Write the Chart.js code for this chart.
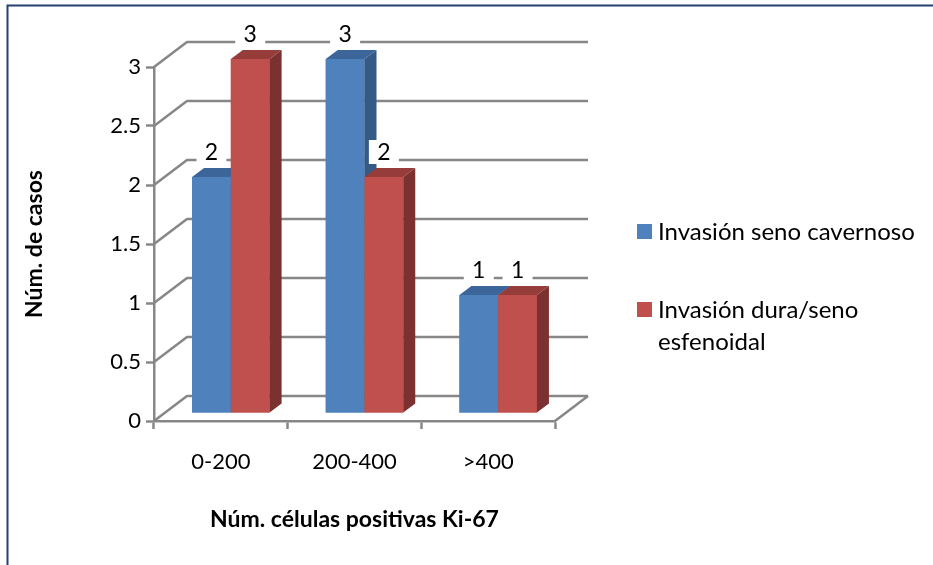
<!DOCTYPE html>
<html>
<head>
<meta charset="utf-8">
<script src="https://cdn.jsdelivr.net/npm/chart.js@4/dist/chart.umd.min.js"></script>
<style>
  html, body { margin: 0; padding: 0; background: #ffffff; }
  #wrap { width: 933px; height: 565px; position: relative; }
</style>
</head>
<body>
<div id="wrap"><canvas id="c" width="933" height="565"></canvas></div>
<script>
// Data
const categories = ['0-200', '200-400', '>400'];
const seriesNames = ['Invasión seno cavernoso', 'Invasión dura/seno esfenoidal'];
const cavernoso = [2, 3, 1];
const duraEsfenoidal = [3, 2, 1];
const yTicks = [0, 0.5, 1, 1.5, 2, 2.5, 3];

// Styling
const FONT = 'Lato, "Open Sans", sans-serif';
const GRID = '#878787';
const palette = [
  { front: '#4F81BD', top: '#3C6699', side: '#365A86' },
  { front: '#C0504D', top: '#963C3A', side: '#7B312F' }
];
const WALL = { dx: 33, dy: -25 };   // depth of the back wall
const BAR_PLANE = { dx: 10, dy: -8 }; // bars sit a little behind the front plane
const BAR_DEPTH = { dx: 12, dy: -9 };

function poly(ctx, pts, fill) {
  ctx.beginPath();
  ctx.moveTo(pts[0][0], pts[0][1]);
  for (let i = 1; i < pts.length; i++) ctx.lineTo(pts[i][0], pts[i][1]);
  ctx.closePath();
  ctx.fillStyle = fill;
  ctx.fill();
}

const box3d = {
  id: 'box3d',
  beforeDraw(chart) {
    const ctx = chart.ctx;
    ctx.save();
    ctx.fillStyle = '#ffffff';
    ctx.fillRect(0, 0, chart.width, chart.height);
    // frame (top and left edges)
    ctx.strokeStyle = '#24406F';
    ctx.lineWidth = 2;
    ctx.beginPath();
    ctx.moveTo(chart.width + 5, 5.5);
    ctx.lineTo(7.5, 5.5);
    ctx.lineTo(7.5, chart.height + 5);
    ctx.stroke();
    ctx.restore();
  },
  beforeDatasetsDraw(chart) {
    const ctx = chart.ctx;
    const { left, right, bottom } = chart.chartArea;
    const y = chart.scales.y;
    ctx.save();
    ctx.strokeStyle = GRID;
    ctx.lineWidth = 2.5;
    ctx.lineJoin = 'round';
    yTicks.forEach(v => {
      const py = y.getPixelForValue(v);
      ctx.beginPath();
      ctx.moveTo(left, py);
      ctx.lineTo(left + WALL.dx, py + WALL.dy);
      ctx.lineTo(right + WALL.dx, py + WALL.dy);
      ctx.stroke();
    });
    // right edge of the floor
    ctx.beginPath();
    ctx.moveTo(right, bottom);
    ctx.lineTo(right + WALL.dx, bottom + WALL.dy);
    ctx.stroke();
    ctx.restore();

    ctx.save();
    ctx.translate(BAR_PLANE.dx, BAR_PLANE.dy);
  },
  afterDatasetsDraw(chart) {
    const ctx = chart.ctx;
    const metas = chart.data.datasets.map((d, i) => chart.getDatasetMeta(i));
    // paint each group left to right so that the right bar covers its neighbour's side
    for (let c = 0; c < categories.length; c++) {
      metas.forEach((meta, d) => {
        const el = meta.data[c];
        const { x, y, base, width } = el.getProps(['x', 'y', 'base', 'width'], true);
        const l = x - width / 2, r = x + width / 2;
        const col = palette[d];
        el.draw(ctx);
        poly(ctx, [[r, y], [r + BAR_DEPTH.dx, y + BAR_DEPTH.dy], [r + BAR_DEPTH.dx, base + BAR_DEPTH.dy], [r, base]], col.side);
        poly(ctx, [[l, y], [r, y], [r + BAR_DEPTH.dx, y + BAR_DEPTH.dy], [l + BAR_DEPTH.dx, y + BAR_DEPTH.dy]], col.top);
      });
    }
    // value labels
    ctx.font = '23px ' + FONT;
    ctx.textAlign = 'center';
    ctx.textBaseline = 'middle';
    metas.forEach((meta, d) => {
      meta.data.forEach((el, c) => {
        const { x, y } = el.getProps(['x', 'y'], true);
        const ly = y - 25;
        ctx.fillStyle = '#ffffff';
        ctx.fillRect(x - 15, ly - 12, 30, 24);
        ctx.fillStyle = '#000000';
        ctx.fillText(String(chart.data.datasets[d].data[c]), x, ly + 1);
      });
    });
    ctx.restore();
  },
  afterDraw(chart) {
    const ctx = chart.ctx;
    ctx.save();
    ctx.font = '24px ' + FONT;
    ctx.textAlign = 'left';
    ctx.textBaseline = 'middle';
    const tx = 658, maxW = 272;
    let top = 224;
    chart.data.datasets.forEach((ds, d) => {
      ctx.fillStyle = palette[d].front;
      ctx.fillRect(637, top, 15, 15);
      // wrap legend text
      const words = ds.label.split(' ');
      const lines = [];
      let cur = '';
      words.forEach(w => {
        const t = cur ? cur + ' ' + w : w;
        if (ctx.measureText(t).width > maxW && cur) { lines.push(cur); cur = w; } else { cur = t; }
      });
      lines.push(cur);
      ctx.fillStyle = '#000000';
      lines.forEach((ln, k) => ctx.fillText(ln, tx, top + 8 + k * 32));
      top += 78;
    });
    ctx.restore();
  }
};

new Chart(document.getElementById('c'), {
  type: 'bar',
  data: {
    labels: categories,
    datasets: [
      { label: seriesNames[0], data: cavernoso, backgroundColor: palette[0].front },
      { label: seriesNames[1], data: duraEsfenoidal, backgroundColor: palette[1].front }
    ]
  },
  options: {
    responsive: false,
    animation: false,
    categoryPercentage: 0.58,
    barPercentage: 1.0,
    layout: { padding: { left: 17, right: 378, top: 67, bottom: 28 } },
    plugins: { legend: { display: false }, tooltip: { enabled: false } },
    scales: {
      y: {
        min: 0, max: 3,
        afterFit(s) { s.width = 137; },
        ticks: { stepSize: 0.5, padding: 5, color: '#000', font: { family: FONT, size: 22 }, callback: v => String(v) },
        grid: { drawOnChartArea: false, drawTicks: true, tickLength: 8, tickColor: GRID, tickWidth: 2.5 },
        border: { display: true, color: GRID, width: 2.5 },
        title: { display: true, text: 'Núm. de casos', color: '#000', font: { family: FONT, size: 23, weight: 'bold' } }
      },
      x: {
        afterFit(s) { s.height = 116; },
        ticks: { padding: 20, color: '#000', font: { family: FONT, size: 22 } },
        grid: { offset: true, drawOnChartArea: false, drawTicks: true, tickLength: 8, tickColor: GRID, tickWidth: 2.5 },
        border: { display: true, color: GRID, width: 2.5 },
        title: { display: true, text: 'Núm. células positivas Ki-67', color: '#000', font: { family: FONT, size: 23, weight: 'bold' } }
      }
    }
  },
  plugins: [box3d]
});
</script>
</body>
</html>
